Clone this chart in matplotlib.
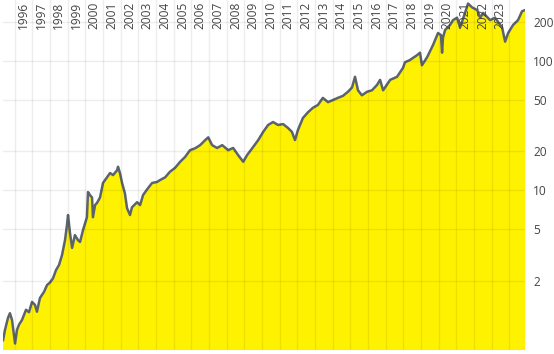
import matplotlib
matplotlib.use("Agg")
import matplotlib.pyplot as plt
import matplotlib.transforms as mtransforms

# time in decimal years, value (log scale)
t = [1995.34, 1995.45, 1995.62, 1995.73, 1995.85, 1996.02, 1996.13, 1996.24, 1996.41, 1996.64,
     1996.81, 1996.98, 1997.15, 1997.26, 1997.43, 1997.66, 1997.83, 1998.00, 1998.17, 1998.34,
     1998.51, 1998.68, 1998.85, 1998.96, 1999.02, 1999.13, 1999.25, 1999.41, 1999.58, 1999.70,
     1999.87, 2000.09, 2000.15, 2000.26, 2000.38, 2000.43, 2000.55, 2000.66, 2000.83, 2001.00,
     2001.23, 2001.40, 2001.57, 2001.80, 2001.85, 2001.96, 2002.08, 2002.24, 2002.36, 2002.53,
     2002.64, 2002.93, 2003.10, 2003.27, 2003.55, 2003.78, 2004.06, 2004.23, 2004.52, 2004.79,
     2005.08, 2005.37, 2005.65, 2005.93, 2006.22, 2006.50, 2006.79, 2006.96, 2007.18, 2007.46,
     2007.75, 2008.09, 2008.37, 2008.65, 2008.94, 2009.16, 2009.45, 2009.79, 2010.07, 2010.35,
     2010.63, 2010.91, 2011.20, 2011.48, 2011.70, 2011.87, 2012.04, 2012.32, 2012.61, 2012.89,
     2013.17, 2013.45, 2013.74, 2014.02, 2014.30, 2014.59, 2014.87, 2015.10, 2015.27, 2015.44,
     2015.66, 2015.95, 2016.23, 2016.52, 2016.69, 2016.86, 2017.26, 2017.65, 2017.99, 2018.10,
     2018.38, 2018.78, 2018.95, 2019.06, 2019.35, 2019.69, 2019.97, 2020.14, 2020.20, 2020.25,
     2020.37, 2020.65, 2020.82, 2021.05, 2021.22, 2021.50, 2021.67, 2021.90, 2022.19, 2022.36,
     2022.53, 2022.92, 2023.20, 2023.60, 2023.77, 2023.94, 2024.22, 2024.50, 2024.73, 2024.90]
price = [0.70, 0.84, 1.04, 1.13, 1.00, 0.66, 0.84, 0.92, 1.00, 1.20,
         1.15, 1.38, 1.31, 1.16, 1.48, 1.65, 1.86, 1.95, 2.10, 2.43,
         2.66, 3.17, 4.14, 5.40, 6.45, 4.70, 3.60, 4.52, 4.14, 4.00,
         4.95, 6.20, 9.70, 9.20, 8.80, 6.20, 7.70, 8.00, 8.80, 11.4,
         12.6, 13.6, 13.1, 14.3, 15.2, 13.6, 11.4, 9.50, 7.30, 6.45,
         7.40, 8.10, 7.70, 9.20, 10.4, 11.4, 11.6, 12.0, 12.6, 13.9,
         14.9, 16.6, 18.1, 20.4, 21.1, 22.3, 24.4, 25.6, 22.3, 21.2,
         22.3, 20.4, 21.2, 18.7, 16.6, 18.7, 21.1, 24.4, 28.2, 31.9,
         33.6, 31.9, 32.4, 30.2, 28.2, 24.4, 29.2, 36.1, 40.0, 43.3,
         45.5, 51.6, 47.8, 49.7, 51.6, 53.5, 57.5, 62.0, 75.0, 59.0,
         54.0, 57.5, 59.0, 65.0, 71.0, 59.0, 71.0, 75.0, 88.0, 97.0,
         101, 110, 115, 92, 106, 132, 163, 157, 115, 150,
         172, 188, 205, 214, 180, 233, 275, 257, 245, 214,
         233, 205, 214, 180, 140, 163, 188, 205, 240, 245]

years = list(range(1996, 2025))
year_labels = [str(y) for y in range(1996, 2024)]
y_ticks = [2, 5, 10, 20, 50, 100, 200]

plt.rcParams['font.family'] = ['Open Sans', 'DejaVu Sans']

fig = plt.figure(figsize=(5.54, 3.54), dpi=100)
ax = fig.add_axes([3 / 554, 4 / 354, 522 / 554, 350 / 354])

ax.fill_between(t, price, 0.01, color='#fff200', linewidth=0, zorder=1)
ax.plot(t, price, color='#5b646d', linewidth=1.8, zorder=2)

ax.set_yscale('log')
ax.set_xlim(1995.3375, 2024.896)
ax.set_ylim(0.588, 293)

ax.set_xticks(years)
ax.set_xticklabels([])
ax.set_yticks(y_ticks)
ax.set_yticklabels([str(v) for v in y_ticks])
ax.yaxis.set_minor_locator(matplotlib.ticker.NullLocator())
ax.yaxis.tick_right()
ax.tick_params(axis='both', length=0)
ax.tick_params(axis='y', labelsize=8.6, labelcolor='#444444', pad=6)

ax.grid(True, color='black', alpha=0.07, linewidth=1)
ax.set_axisbelow(False)
for s in ax.spines.values():
    s.set_visible(False)

trans = mtransforms.blended_transform_factory(ax.transData, ax.transAxes)
for lab in year_labels:
    ax.text(int(lab) + 0.5, 1 - 2 / 350, lab, transform=trans, rotation=90,
            ha='center', va='top', fontsize=8.6, color='#444444', zorder=5)

fig.savefig('out.png', dpi=100)
